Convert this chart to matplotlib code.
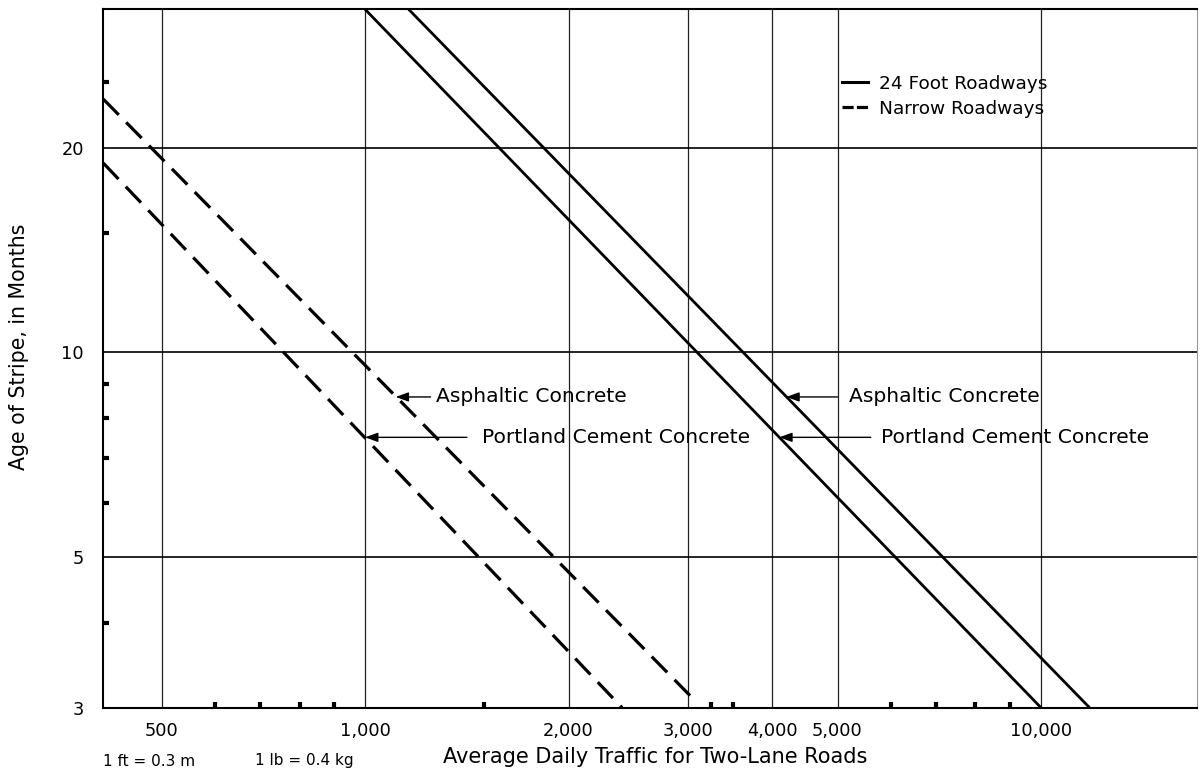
import matplotlib
matplotlib.use('Agg')
import matplotlib.pyplot as plt
from matplotlib.lines import Line2D
from matplotlib.ticker import FixedLocator, NullFormatter

# axis ticks
x_ticks = [500, 1000, 2000, 3000, 4000, 5000, 10000]
x_tick_labels = ['500', '1,000', '2,000', '3,000', '4,000', '5,000', '10,000']
y_ticks = [3, 5, 10, 20]
y_tick_labels = ['3', '5', '10', '20']
x_minor = [600, 700, 800, 900, 1500, 3250, 3500, 6000, 7000, 8000, 9000]
y_minor = [4, 6, 7, 8, 9, 15, 25]

# line end points: ADT vs. age of stripe (months)
adt_24_asphalt = [1160, 11800]
age_24_asphalt = [32, 3]
adt_24_portland = [1000, 10000]
age_24_portland = [32, 3]
adt_narrow_asphalt = [410, 3050]
age_narrow_asphalt = [23.6, 3.1]
adt_narrow_portland = [410, 2400]
age_narrow_portland = [19, 3]

fig = plt.figure(figsize=(12, 7.74), dpi=100)
ax = fig.add_axes([0.0861, 0.0857, 0.9112, 0.9023])
ax.set_xscale('log')
ax.set_yscale('log')
ax.set_xlim(410, 17000)
ax.set_ylim(3, 32)

solid = dict(color='black', lw=2.0, solid_capstyle='butt')
dashed = dict(color='black', lw=2.3, linestyle=(0, (6.9, 3.3)))
ax.plot(adt_24_asphalt, age_24_asphalt, **solid)
ax.plot(adt_24_portland, age_24_portland, **solid)
ax.plot(adt_narrow_asphalt, age_narrow_asphalt, **dashed)
ax.plot(adt_narrow_portland, age_narrow_portland, **dashed)

# ticks and grid
ax.xaxis.set_major_locator(FixedLocator(x_ticks))
ax.xaxis.set_ticklabels(x_tick_labels)
ax.yaxis.set_major_locator(FixedLocator(y_ticks))
ax.yaxis.set_ticklabels(y_tick_labels)
ax.xaxis.set_minor_locator(FixedLocator(x_minor))
ax.yaxis.set_minor_locator(FixedLocator(y_minor))
ax.xaxis.set_minor_formatter(NullFormatter())
ax.yaxis.set_minor_formatter(NullFormatter())
ax.tick_params(which='major', length=0, labelsize=12.8)
ax.tick_params(axis='x', which='major', pad=10)
ax.tick_params(axis='y', which='major', pad=14)
ax.tick_params(which='minor', direction='in', length=4, width=3, color='black')
ax.grid(True, which='major', axis='y', color='black', lw=1.2)
ax.grid(True, which='major', axis='x', color='#222222', lw=0.9)

for side in ['left', 'bottom', 'top']:
    ax.spines[side].set_linewidth(1.5)
ax.spines['right'].set_linewidth(0.8)
ax.spines['right'].set_color('#999999')

ax.set_xlabel('Average Daily Traffic for Two-Lane Roads', fontsize=15, va='center')
ax.xaxis.set_label_coords(0.505, -0.0706)
ax.set_ylabel('Age of Stripe, in Months', fontsize=14.8, va='center')
ax.yaxis.set_label_coords(-0.0771, 0.516)

# callouts
arrow = dict(arrowstyle='-|>,head_length=0.55,head_width=0.2', color='black',
             lw=1.0, shrinkA=0, shrinkB=0, mutation_scale=14)
ax.annotate('', xy=(1110, 8.6), xytext=(1250, 8.6), arrowprops=arrow)
ax.text(1275, 8.6, 'Asphaltic Concrete', fontsize=14.6, va='center')
ax.annotate('', xy=(1000, 7.5), xytext=(1415, 7.5), arrowprops=arrow)
ax.text(1490, 7.5, 'Portland Cement Concrete', fontsize=14.6, va='center')
ax.annotate('', xy=(4200, 8.6), xytext=(5000, 8.6), arrowprops=arrow)
ax.text(5200, 8.6, 'Asphaltic Concrete', fontsize=14.6, va='center')
ax.annotate('', xy=(4100, 7.5), xytext=(5600, 7.5), arrowprops=arrow)
ax.text(5800, 7.5, 'Portland Cement Concrete', fontsize=14.6, va='center')

handles = [Line2D([], [], color='black', lw=2.2),
           Line2D([], [], color='black', lw=2.3, linestyle=(0, (3.5, 1.0)))]
ax.legend(handles, ['24 Foot Roadways', 'Narrow Roadways'], loc='upper left',
          bbox_to_anchor=(0.6756, 0.906), frameon=False, fontsize=13.3,
          borderpad=0, borderaxespad=0, handlelength=1.4, handletextpad=0.58,
          labelspacing=0.38)

fig.text(103 / 1200, 1 - 761 / 774, '1 ft = 0.3 m', fontsize=11, va='center')
fig.text(255 / 1200, 1 - 761 / 774, '1 lb = 0.4 kg', fontsize=11, va='center')

fig.savefig('out.png', dpi=100)
